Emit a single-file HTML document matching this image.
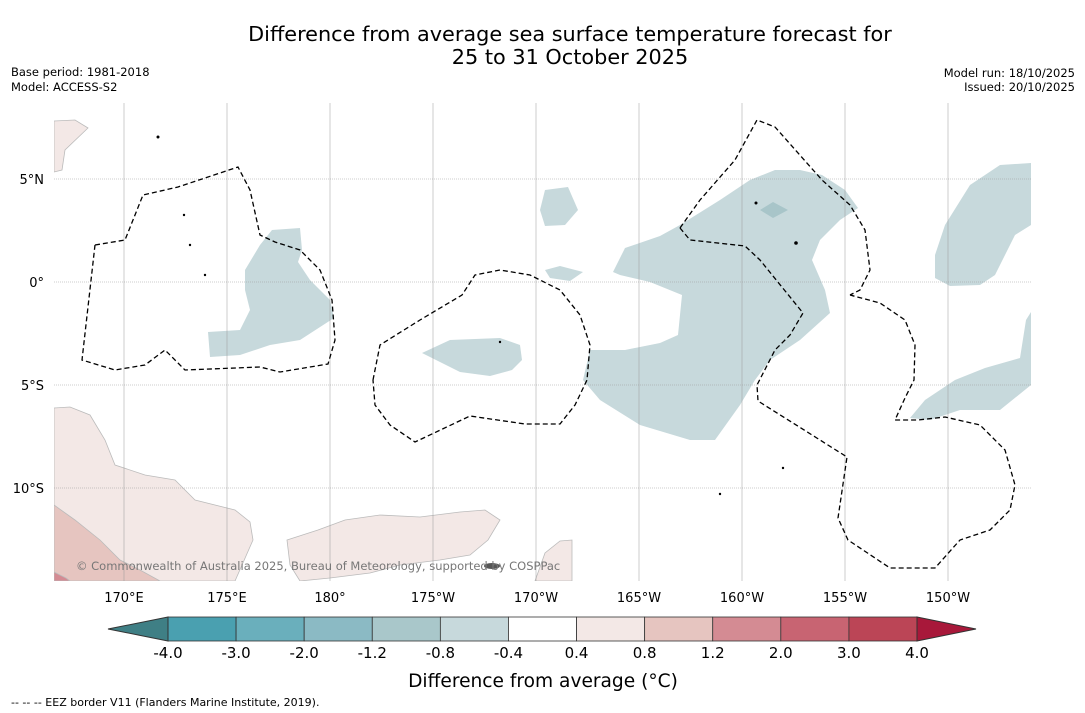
<!DOCTYPE html>
<html><head><meta charset="utf-8"><style>
body{margin:0;background:#fff;font-family:"DejaVu Sans","Liberation Sans",sans-serif}
svg{display:block;font-family:"DejaVu Sans","Liberation Sans",sans-serif}
</style></head><body>
<svg width="1085" height="713" xmlns="http://www.w3.org/2000/svg">
<rect width="1085" height="713" fill="#fff"/>
<text x="570" y="41" font-size="20.8" text-anchor="middle">Difference from average sea surface temperature forecast for</text>
<text x="570" y="64" font-size="20.8" text-anchor="middle">25 to 31 October 2025</text>
<text x="11" y="76" font-size="11.5">Base period: 1981-2018</text>
<text x="11" y="91" font-size="11.5">Model: ACCESS-S2</text>
<text x="1075" y="77" font-size="11.5" text-anchor="end">Model run: 18/10/2025</text>
<text x="1075" y="91" font-size="11.5" text-anchor="end">Issued: 20/10/2025</text>
<g>
<clipPath id="c"><rect x="54" y="103" width="977" height="478"/></clipPath>
<g clip-path="url(#c)" stroke="#bbb" stroke-width="0.8">
<polygon fill="#f3e8e6" points="54,121 75,120 88,128 65,150 62,170 54,172"/>
<polygon fill="#f3e8e6" points="54,408 70,407 90,415 105,440 115,465 145,475 175,480 195,500 235,510 250,522 253,540 235,581 54,581"/>
<polygon fill="#e6c5c0" points="54,505 75,520 100,540 120,560 140,570 160,581 54,581"/>
<polygon fill="#d48b93" points="54,572 66,578 70,581 54,581"/>
<polygon fill="#f3e8e6" points="287,540 318,530 345,520 380,515 420,517 460,512 485,510 500,520 488,540 470,555 440,560 400,565 370,573 330,578 300,581 290,565"/>
<polygon fill="#f3e8e6" points="535,581 545,553 560,541 572,540 572,581"/>
<g fill="#c7d9dc" stroke="none">
<polygon points="245,270 260,245 272,230 300,228 302,250 298,262 310,280 330,300 334,318 300,340 270,345 240,355 210,357 208,332 240,330 250,310 245,290"/>
<polygon points="422,353 450,340 500,338 520,345 522,360 512,370 490,376 460,372 440,362"/>
<polygon points="540,210 545,190 568,187 578,210 565,225 545,226"/>
<polygon points="545,270 560,266 583,272 570,281 550,278"/>
<polygon points="613,272 625,248 660,236 680,225 720,200 750,180 775,170 800,170 822,175 845,190 858,208 840,220 820,240 812,260 825,290 830,313 800,340 770,360 755,380 740,405 715,440 690,440 640,425 600,400 583,380 590,350 625,350 660,343 678,335 682,295 650,282 620,275"/>
<polygon points="935,255 945,225 970,185 1000,165 1031,163 1031,225 1015,235 995,275 980,285 950,286 935,278"/>
<polygon points="910,418 925,400 955,380 985,368 1020,358 1026,320 1031,312 1031,385 1000,410 960,410 930,420"/>
<polygon fill="#a8c5c9" points="760,210 773,202 788,210 773,218"/>
</g>
</g>
<g stroke="#999" stroke-width="0.5">
<g stroke-dasharray="1,1"><line x1="54" x2="1031" y1="179" y2="179"/><line x1="54" x2="1031" y1="282" y2="282"/><line x1="54" x2="1031" y1="385" y2="385"/><line x1="54" x2="1031" y1="488" y2="488"/></g>
<g id="vgrid"></g>
</g>
<g fill="none" stroke="#000" stroke-width="1.3" stroke-dasharray="5,3">
<polyline points="95,245 125,240 143,195 178,187 238,167 250,190 260,235 275,242 300,250 320,270 332,300 335,340 328,364 280,372 260,367 185,370 165,350 145,365 115,370 82,360 95,245"/>
<polyline points="373,380 380,345 420,320 462,295 475,275 500,270 530,275 560,290 580,315 590,345 587,380 575,405 560,424 525,424 470,416 415,442 390,425 375,405 373,380"/>
<polyline points="680,228 700,200 735,160 757,120 775,127 822,180 850,205 865,230 870,270 860,290 850,295"/>
<polyline points="680,228 690,240 745,246 760,260 803,313 790,335 775,350 757,385 758,401 847,457 838,518 848,540 890,568 935,568 960,540 990,530 1010,510 1015,485 1005,450 980,425 945,417 918,420 895,420 905,398 914,380 915,345 905,320 880,303 850,295"/>
</g>
<g fill="#000">
<circle cx="158" cy="137" r="1.5"/><circle cx="184" cy="215" r="1.2"/><circle cx="190" cy="245" r="1.2"/><circle cx="205" cy="275" r="1.2"/><circle cx="756" cy="203" r="1.5"/><circle cx="796" cy="243" r="1.8"/><circle cx="500" cy="342" r="1.2"/><circle cx="783" cy="468" r="1.2"/><circle cx="720" cy="494" r="1.2"/><ellipse cx="492" cy="566" rx="8" ry="3" fill="#555"/>
</g>
<text x="76" y="570" font-size="11.5" fill="#777">© Commonwealth of Australia 2025, Bureau of Meteorology, supported by COSPPac</text>
</g>
<g font-size="13">
<text x="44" y="184" text-anchor="end">5°N</text><text x="44" y="287" text-anchor="end">0°</text><text x="44" y="390" text-anchor="end">5°S</text><text x="44" y="493" text-anchor="end">10°S</text>
</g>
<g id="xlabels" font-size="13" text-anchor="middle"></g>
<g id="cbar"></g>
<text x="543" y="687" font-size="18.6" text-anchor="middle">Difference from average (°C)</text>
<text x="11" y="706" font-size="11">--  --  -- EEZ border V11 (Flanders Marine Institute, 2019).</text>
</svg>
<script>
const lonLabels=["170°E","175°E","180°","175°W","170°W","165°W","160°W","155°W","150°W"];
const lonValues=[170,175,180,185,190,195,200,205,210];
const cbarTicks=["-4.0","-3.0","-2.0","-1.2","-0.8","-0.4","0.4","0.8","1.2","2.0","3.0","4.0"];
const cbarColors=["#4aa0b0","#6aafbc","#8bbac4","#a9c7ca","#c7d9dc","#ffffff","#f3e8e6","#e6c5c0","#d48b93","#c86472","#bb4556"];
const ns="http://www.w3.org/2000/svg";
const xScale=l=>124+(l-170)*20.6;
const vg=document.getElementById('vgrid'),xl=document.getElementById('xlabels');
lonValues.forEach((l,i)=>{
 const ln=document.createElementNS(ns,'line');
 ln.setAttribute('x1',xScale(l));ln.setAttribute('x2',xScale(l));ln.setAttribute('y1',103);ln.setAttribute('y2',581);
 
 
 vg.appendChild(ln);
 const t=document.createElementNS(ns,'text');
 t.setAttribute('x',xScale(l));t.setAttribute('y',602);t.textContent=lonLabels[i];
 
 
 xl.appendChild(t);
});
const cb=document.getElementById('cbar');
const x0=168,x1=917,y0=617,h=24,w=(x1-x0)/cbarColors.length;
cbarColors.forEach((c,i)=>{
 const r=document.createElementNS(ns,'rect');
 r.setAttribute('x',x0+i*w);r.setAttribute('y',y0);r.setAttribute('width',w);r.setAttribute('height',h);
 r.setAttribute('fill',c);r.setAttribute('stroke','#333');r.setAttribute('stroke-width','0.8');
 
 
 cb.appendChild(r);
});
const lt=document.createElementNS(ns,'polygon');
lt.setAttribute('points',`${x0},${y0} 108,${y0+h/2} ${x0},${y0+h}`);lt.setAttribute('fill','#3f7f85');lt.setAttribute('stroke','#333');


cb.appendChild(lt);
const rt=document.createElementNS(ns,'polygon');
rt.setAttribute('points',`${x1},${y0} 976,${y0+h/2} ${x1},${y0+h}`);rt.setAttribute('fill','#a8183a');rt.setAttribute('stroke','#333');


cb.appendChild(rt);
cbarTicks.forEach((s,i)=>{
 const t=document.createElementNS(ns,'text');
 t.setAttribute('x',x0+i*w);t.setAttribute('y',658);t.setAttribute('font-size','15');t.setAttribute('text-anchor','middle');
 t.textContent=s;
 
 
 cb.appendChild(t);
});
</script>
</body></html>
